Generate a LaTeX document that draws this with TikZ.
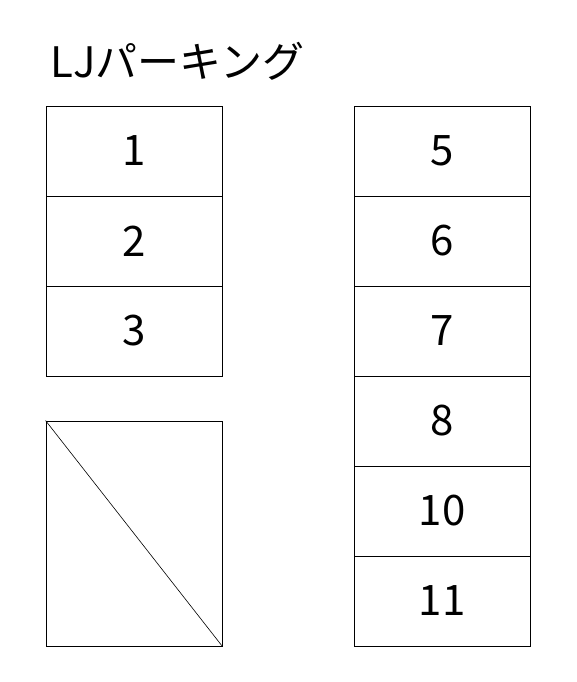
\documentclass[tikz,border=0pt]{standalone}
\usepackage{fontspec}
\newfontfamily\jpfont{Noto Sans CJK JP}
\tikzset{every node/.style={rectangle, draw, line width=0.8pt, minimum width=176pt, minimum height=90pt, inner sep=0pt, font=\jpfont\fontsize{42}{42}\selectfont}}

\begin{document}
\begin{tikzpicture}[x=1pt, y=-1pt]
			\useasboundingbox (0,0) rectangle (576,682);
			\node[draw=none, minimum width=0pt, minimum height=0pt, anchor=base west, font=\jpfont\fontsize{42}{42}\selectfont] (T) at (50,78) {LJパーキング};
			
			\node (P1) at (134,151) {1};
			\node (P2) at (134,241) {2};
			\node (P3) at (134,331) {3};
			\node[minimum height=225pt] (P4) at (134,533.5) {};
			
			\node (P5) at (442,151) {5};
			\node (P6) at (442,241) {6};
			\node (P7) at (442,331) {7};
			\node (P8) at (442,421) {8};
			\node (P10) at (442,511) {10};
			\node (P11) at (442,601) {11};
			
			\draw[line width=0.6pt] (P4.north west) -- (P4.south east);
		\end{tikzpicture}
\end{document}
